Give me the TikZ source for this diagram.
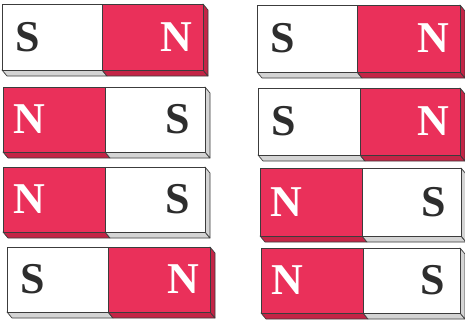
\documentclass[tikz,border=0pt]{standalone}
\usepackage{fontspec}
\setmainfont{Liberation Serif}
\usepackage{tikz}
\usetikzlibrary{positioning}

\definecolor{magred}{RGB}{234,48,90}
\definecolor{stripred}{RGB}{196,36,70}
\definecolor{stripgray}{RGB}{212,212,212}
\definecolor{poledark}{RGB}{45,45,45}
\definecolor{edgegray}{RGB}{60,60,60}

\tikzset{
	edge/.style={draw=edgegray, line width=0.7pt, line join=round},
	pole/.style={font=\fontsize{44}{44}\selectfont\bfseries, inner sep=0pt}
}

\begin{document}
\begin{tikzpicture}[x=1pt, y=-1pt]
				\useasboundingbox (0,0) rectangle (465,327);
				
				% === MAGNESY: x0 / y0 / x1 / y1 / podział / biegun lewy / biegun prawy ===
				% głębokość bryły = (5,6)
				\foreach \xa/\ya/\xb/\yb/\xs/\la/\lb [count=\i] in {
					2/4/203/70/102/S/N,
					3/87/205/152/105/N/S,
					3/167/205/232/105/N/S,
					7/247/210/312/108/S/N,
					257/5/460/72/357/S/N,
					258/88/460/155/360/S/N,
					260/168/461/236/362/N/S,
					261/248/460/313/363/N/S} {
					\if\la N\def\fa{magred}\def\sa{stripred}\def\ta{white}%
					\else\def\fa{white}\def\sa{stripgray}\def\ta{poledark}\fi
					\if\lb N\def\fb{magred}\def\sb{stripred}\def\tb{white}%
					\else\def\fb{white}\def\sb{stripgray}\def\tb{poledark}\fi
					% dolna krawędź i bok
					\draw[edge, fill=\sa] (\xa,\yb) -- (\xs,\yb) -- ++(5,6) -- (\xa+5,\yb+6) -- cycle;
					\draw[edge, fill=\sb] (\xs,\yb) -- (\xb,\yb) -- ++(5,6) -- (\xs+5,\yb+6) -- cycle;
					\draw[edge, fill=\sb] (\xb,\ya) -- ++(5,6) -- (\xb+5,\yb+6) -- (\xb,\yb) -- cycle;
					% przód
					\draw[edge, fill=\fa] (\xa,\ya) rectangle (\xs,\yb);
					\draw[edge, fill=\fb] (\xs,\ya) rectangle (\xb,\yb);
					\pgfmathsetmacro{\ym}{(\ya+\yb)/2}
					\node[pole, text=\ta] (pa\i) at (\xa+26,\ym) {\la};
					\node[pole, text=\tb] (pb\i) at (\xb-27,\ym) {\lb};
				}
				
\end{tikzpicture}
\end{document}
